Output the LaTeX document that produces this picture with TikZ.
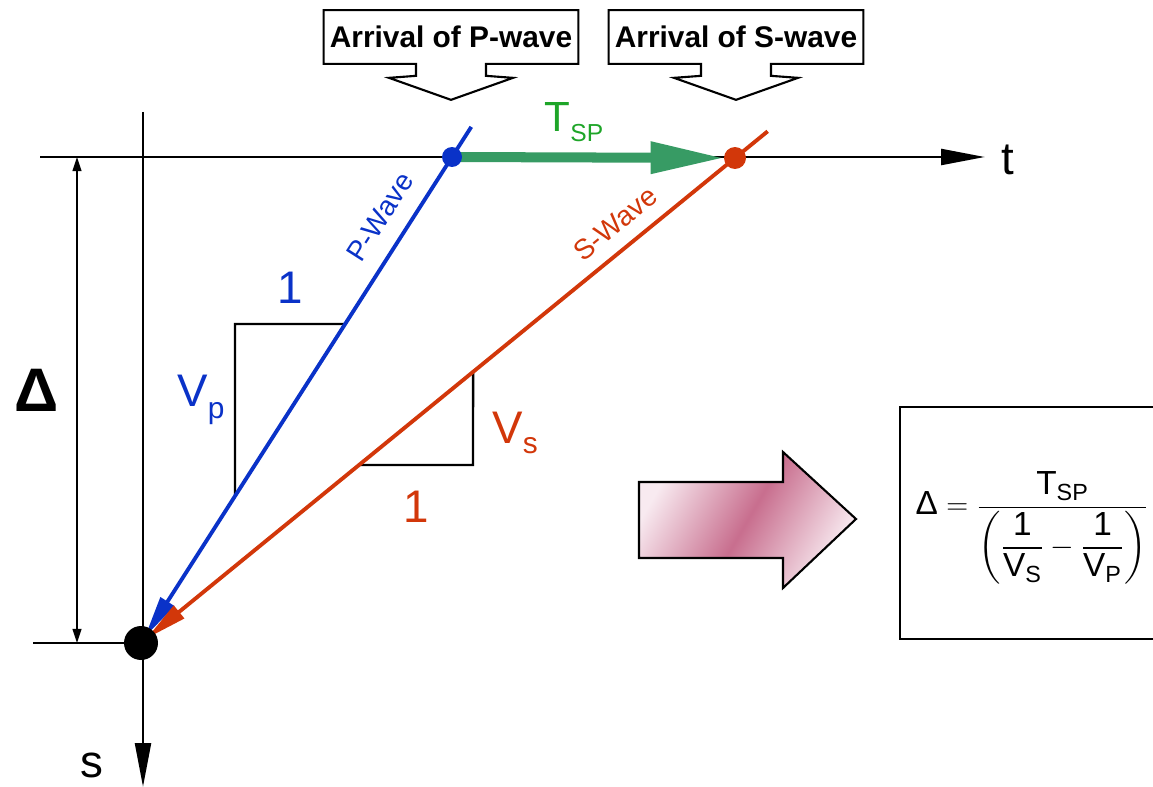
\documentclass[tikz,border=0pt]{standalone}
\usepackage{amsmath}
\usepackage{fontspec}
\setmainfont{Liberation Sans}
\usetikzlibrary{arrows.meta,positioning,calc}
\definecolor{pblue}     {RGB}{10,50,200}
\definecolor{sred}      {RGB}{210,55,10}
\definecolor{tgreen}    {RGB}{55,155,100}
\definecolor{tlabel}    {RGB}{30,165,40}
\definecolor{arrowdark} {RGB}{200,110,142}
\definecolor{arrowlight}{RGB}{248,234,240}
\newcommand{\fs}[1]{\fontsize{#1}{#1}\selectfont}

\begin{document}
\begin{tikzpicture}[x=0.02cm,y=-0.02cm,>=Stealth,
    axis/.style={line width=1.6pt,-{Triangle[length=25pt,width=9pt]}},
    arrival/.style={font=\fs{17}\bfseries,minimum width=5.08cm,minimum height=1.06cm,inner sep=0},
    callout/.style={line width=1.2pt},
    dot/.style={circle,inner sep=0,minimum size=#1},
    wave/.style={line width=2.2pt,-{Triangle[length=24pt,width=9pt]},shorten >=4pt},
    slope/.style={line width=1.4pt},
    big/.style={font=\fs{26}}]
        \useasboundingbox (0,0) rectangle (1153,787);
        \coordinate (ptime) at (452,157);
        \coordinate (stime) at (735,158);
        \coordinate (o) at (141,643);
        \coordinate (tstart) at (40,157);
        \coordinate (tend) at (985,157);
        \coordinate (sstart) at (143,112);
        \coordinate (send) at (143,787);
        \coordinate (dtop) at (77,157);
        \coordinate (dbot) at (77,643);
        \coordinate (base) at (33,643);
        \coordinate (pcorner) at (235,324);
        \coordinate (pcornerx) at (300,324);
        \coordinate (pcornery) at (235,420);
        \coordinate (scorner) at (473,465);
        \coordinate (scornerx) at (420,465);
        \coordinate (scornery) at (473,400);

        \node[arrival] (parr) at (451,37) {Arrival of P-wave};
        \node[arrival] (sarr) at (736,37) {Arrival of S-wave};
        \foreach \arr in {parr,sarr}
          \draw[callout] ($(\arr.south)+(35,0)$) -- (\arr.south east) -- (\arr.north east)
            -- (\arr.north west) -- (\arr.south west) -- ($(\arr.south)+(-35,0)$)
            -- ++(0,12) -- ++(-27,2) -- ($(\arr.south)+(0,36)$) -- ($(\arr.south)+(62,14)$)
            -- ++(-27,-2) -- cycle;

        \draw[axis] (tstart) -- (tend);
        \draw[axis] (sstart) -- (send);
        \draw[line width=1.6pt] (base) -- (o);
        \draw[line width=1pt,{Triangle[length=8pt,width=5pt]}-{Triangle[length=8pt,width=5pt]}]
          (dtop) -- (dbot);
        \node[big] (tlbl) at (1008,160) {t};
        \node[big] (slbl) at (92,765) {s};
        \node[font=\fs{35}\bfseries] (dlbl) at (37,390) {Δ};

        \draw[slope] (intersection of ptime--o and pcorner--pcornerx) -- (pcorner)
          -- (intersection of ptime--o and pcorner--pcornery);
        \draw[slope] (intersection of stime--o and scorner--scornery) -- (scorner)
          -- (intersection of stime--o and scorner--scornerx);

        \draw[wave,pblue] ($(ptime)!-0.062!(o)$) -- (o);
        \draw[wave,sred]  ($(stime)!-0.055!(o)$) -- (o);
        \path (o) -- (ptime) node[pos=0.845,sloped,above=7pt,font=\fs{16},pblue] (pwave) {P-Wave};
        \path (o) -- (stime) node[pos=0.825,sloped,above=5pt,font=\fs{16},sred] (swave) {S-Wave};

        \node[big,pblue] (pone) at (290,288) {1};
        \node[big,pblue] (vp) at (201,400) {V\raisebox{-7pt}{\fs{17}p}};
        \node[big,sred] (vs) at (515,433) {V\raisebox{-6pt}{\fs{17}s}};
        \node[big,sred] (sone) at (416,507) {1};

        \draw[tgreen,line width=5.7pt,-{Triangle[length=42pt,width=17pt]},shorten >=6pt]
          (ptime) -- (stime);
        \node[tlabel,font=\fs{24}] (tsp) at (574,122) {T\raisebox{-6pt}{\fs{14}SP}};

        \node[dot=0.4cm,fill=pblue] (pdot) at (ptime) {};
        \node[dot=0.44cm,fill=sred] (sdot) at (stime) {};
        \node[dot=0.68cm,fill=black] (odot) at (o) {};

        \draw[line width=1.2pt,left color=arrowlight,right color=arrowlight,
              middle color=arrowdark,shading angle=60]
          (639,482) -- (783,482) -- (783,452) -- (856,519) -- (783,588) -- (783,558)
          -- (639,558) -- cycle;

        \draw[line width=1.4pt] (900,407) rectangle (1170,639);
        \node[font=\fs{19}] (formula) at (1032,528)
          {$\text{Δ} = \dfrac{\text{T}_{\text{SP}}}{\left(\dfrac{\text{1}}{\text{V}_{\text{S}}}
            - \dfrac{\text{1}}{\text{V}_{\text{P}}}\right)}$};
      \end{tikzpicture}
\end{document}
